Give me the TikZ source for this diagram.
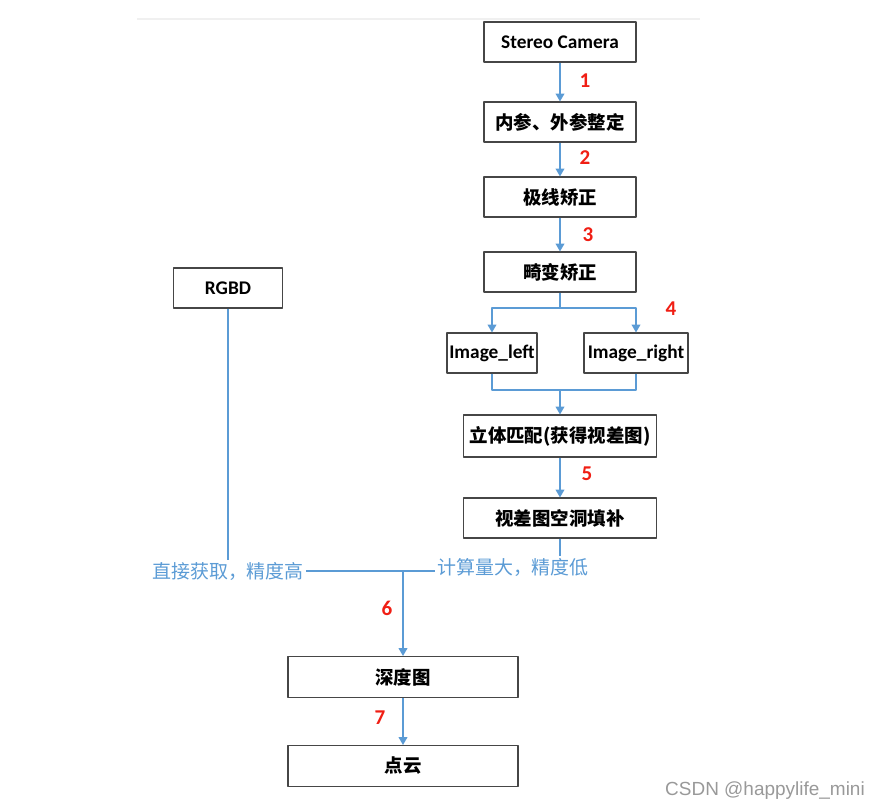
\documentclass[tikz,border=0pt]{standalone}
\usepackage{fontspec}
\setmainfont{Carlito}
\newfontfamily\cjk{Noto Sans CJK SC}
\newfontfamily\wmfont{Liberation Sans}
\usetikzlibrary{arrows.meta}

\definecolor{lineblue}{RGB}{91,155,213}
\definecolor{numred}{RGB}{240,30,20}
\definecolor{boxgray}{RGB}{70,70,70}

\newcommand{\latin}{\rmfamily\bfseries\fontsize{11}{13}\selectfont}

\begin{document}
\begin{tikzpicture}[x = .02cm, y = -.02cm, line join = round,
  box/.style = {draw = boxgray, line width = .6pt, fill = white,
    minimum height = .8cm, inner sep = 0pt,
    font = \cjk\bfseries\fontsize{10.5}{12}\selectfont},
  link/.style = {draw = lineblue, line width = .8pt},
  flow/.style = {link, -{Triangle[width = 5pt, length = 4.5pt]}},
  num/.style = {text = numred, font = \bfseries\large},
  note/.style = {text = lineblue, font = \cjk\fontsize{10.8}{12}\selectfont,
    inner sep = 1pt}]

  \useasboundingbox (0, 0) rectangle (882, 809);
  \draw[gray!12, line width = .6pt] (137, 19) -- (700, 19);

  % stereo chain
  \node[box, minimum width = 3.04cm] (cam) at (560, 42)
  {\latin Stereo Camera};
  \node[box, minimum width = 3.04cm] (calib) at (560, 122) {内参、外参整定};
  \node[box, minimum width = 3.04cm] (epi) at (560, 197) {极线矫正};
  \node[box, minimum width = 3.04cm] (dist) at (560, 272) {畸变矫正};
  \node[box, minimum width = 1.8cm] (imgL) at (492, 353)
  {\latin Image\_left};
  \node[box, minimum width = 2.08cm] (imgR) at (636, 353)
  {\latin Image\_right};
  \node[box, minimum width = 3.86cm, minimum height = .84cm] (match)
  at (560, 436) {立体匹配(获得视差图)};
  \node[box, minimum width = 3.86cm] (fill) at (560, 518) {视差图空洞填补};

  % rgbd + output
  \node[box, minimum width = 2.18cm] (rgbd) at (228, 288) {\latin RGBD};
  \node[box, minimum width = 4.6cm, minimum height = .82cm] (depth)
  at (403, 677) {深度图};
  \node[box, minimum width = 4.6cm, minimum height = .82cm] (cloud)
  at (403, 766) {点云};

  \node[note] (high) at (228, 571) {直接获取，精度高};
  \node[note] (low) at (513, 567) {计算量大，精度低};

  \coordinate (split) at (560, 308);
  \coordinate (merge) at (560, 390);
  \coordinate (join) at (403, 571);

  \draw[flow] (cam) -- (calib);
  \draw[flow] (calib) -- (epi);
  \draw[flow] (epi) -- (dist);
  \draw[link] (dist) -- (split);
  \draw[flow] (split) -| (imgL);
  \draw[flow] (split) -| (imgR);
  \draw[link] (imgL) |- (merge);
  \draw[link] (imgR) |- (merge);
  \draw[flow] (merge) -- (match);
  \draw[flow] (match) -- (fill);
  \draw[link] (fill.south) -- (fill.south |- low.north);
  \draw[link] (rgbd) -- (high);
  \draw[link] (high) -- (join);
  \draw[link] (low.west |- join) -- (join);
  \draw[flow] (join) -- (depth);
  \draw[flow] (depth) -- (cloud);

  % step numbers
  \node[num] (n1) at (585, 81) {1};
  \node[num] (n2) at (585, 158) {2};
  \node[num] (n3) at (588, 235) {3};
  \node[num] (n4) at (671, 309) {4};
  \node[num] (n5) at (587, 474) {5};
  \node[num] (n6) at (387, 608) {6};
  \node[num] (n7) at (380, 718) {7};

  \node[text = gray!80, font = \wmfont\fontsize{10.8}{13}\selectfont,
  anchor = east] (mark) at (871, 791) {CSDN @happylife\_mini};
\end{tikzpicture}
\end{document}
